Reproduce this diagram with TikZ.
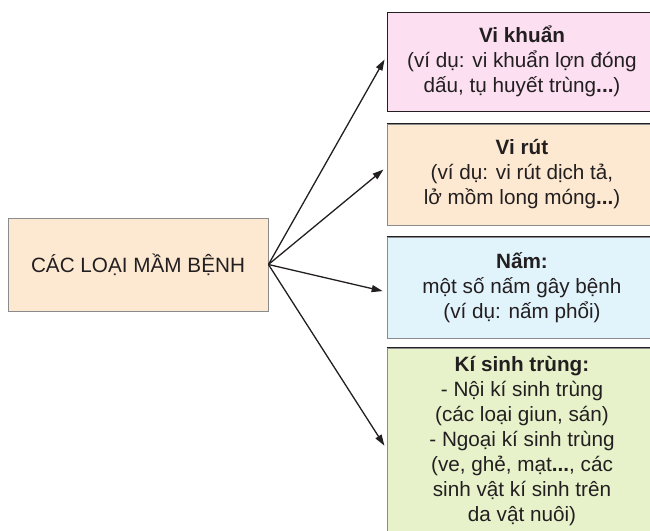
\documentclass[tikz,border=0pt]{standalone}
\usepackage{fontspec}
\setmainfont{Liberation Sans}
\usetikzlibrary{arrows.meta}
\definecolor{vkpink}{HTML}{FCE0F1}
\definecolor{mbpeach}{HTML}{FDE9D1}
\definecolor{namblue}{HTML}{E1F4FC}
\definecolor{kstgreen}{HTML}{E7F2CA}
\definecolor{boxline}{HTML}{8A8B8D}
\definecolor{inkblack}{HTML}{231F20}

\tikzset{
  mbox/.style={draw=boxline, line width=0.9pt, align=center, inner sep=0pt, text=inkblack,
    font=\fontsize{20.7}{25}\selectfont},
  typebox/.style={mbox, minimum width=270pt},
  topline/.style={inkblack, line width=1pt},
  mlink/.style={-{Triangle[length=11pt,width=7pt]}, line width=1.3pt, inkblack, shorten >=4pt}
}

\begin{document}
\begin{tikzpicture}[x=1pt,y=-1pt]
  \useasboundingbox (0,0) rectangle (650,530);
  % khung chinh
  \node[mbox, fill=mbpeach, minimum width=260pt, minimum height=93pt] (mb) at (138,264.5) {CÁC LOẠI MẦM BỆNH};
  % cac loai
  \node[typebox, fill=vkpink, draw=inkblack, minimum height=99pt] (vk) at (522,61.5)
    {\textbf{Vi khuẩn}\\(ví dụ: vi khuẩn lợn đóng\\dấu, tụ huyết trùng\textbf{...})};
  \node[typebox, fill=mbpeach, minimum height=101pt] (vr) at (522,174.5)
    {\textbf{Vi rút}\\(ví dụ: vi rút dịch tả,\\lở mồm long móng\textbf{...})};
  \node[typebox, fill=namblue, minimum height=101pt] (nam) at (522,287.5)
    {\textbf{Nấm:}\\một số nấm gây bệnh\\(ví dụ: nấm phổi)};
  \node[typebox, fill=kstgreen, minimum height=186pt] (kst) at (522,441)
    {\textbf{Kí sinh trùng:}\\- Nội kí sinh trùng\hspace*{20pt}\\(các loại giun, sán)\\- Ngoại kí sinh trùng\\(ve, ghẻ, mạt\textbf{...}, các\\sinh vật kí sinh trên\\da vật nuôi)};
  \draw[topline] (vr.north west) -- (vr.north east);
  \draw[topline] (nam.north west) -- (nam.north east);
  \draw[topline] (kst.north west) -- (kst.north east);
  % mui ten
  \draw[mlink] (mb.east) -- ([yshift=5.5pt]vk.west);
  \draw[mlink] (mb.east) -- ([yshift=7.5pt]vr.west);
  \draw[mlink] (mb.east) -- ([yshift=-4.5pt]nam.west);
  \draw[mlink] (mb.east) -- ([yshift=-8pt]kst.west);
\end{tikzpicture}
\end{document}
